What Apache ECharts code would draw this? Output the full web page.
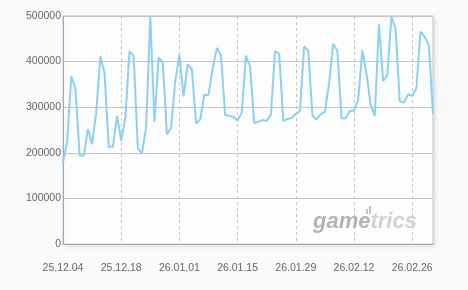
<!DOCTYPE html>
<html>
<head>
<meta charset="utf-8">
<script src="https://cdn.jsdelivr.net/npm/echarts@6/dist/echarts.min.js"></script>
<style>html,body{margin:0;padding:0;background:#fafafa;}#c{width:468px;height:290px;}</style>
</head>
<body>
<div id="c"></div>
<script>
// Daily values from 2025-12-04 to 2026-03-03
var startDate = [2025, 12, 4];
var dayCount = 90;
var values = [
  179000, 224000, 368000, 340000, 194000, 194000, 252000, 219000, 290000, 412000,
  374000, 213000, 214000, 281000, 226000, 277000, 423000, 412000, 210000, 199000,
  257000, 498000, 268000, 409000, 398000, 240000, 255000, 357000, 415000, 323000,
  394000, 383000, 265000, 273000, 327000, 327000, 385000, 430000, 414000, 283000,
  281000, 279000, 270000, 288000, 413000, 389000, 265000, 268000, 272000, 270000,
  284000, 423000, 417000, 270000, 274000, 276000, 286000, 292000, 433000, 424000,
  281000, 273000, 285000, 290000, 352000, 439000, 423000, 276000, 276000, 292000,
  292000, 316000, 425000, 374000, 305000, 281000, 482000, 358000, 369000, 498000,
  472000, 313000, 310000, 328000, 325000, 341000, 466000, 454000, 436000, 286000
];
var yTicks = [0, 100000, 200000, 300000, 400000, 500000];

function pad(n){ return (n < 10 ? '0' : '') + n; }
var categories = [];
(function(){
  var d = new Date(Date.UTC(startDate[0], startDate[1]-1, startDate[2]));
  for (var i = 0; i < dayCount; i++) {
    var yy = String(d.getUTCFullYear()).slice(2);
    categories.push(yy + '.' + pad(d.getUTCMonth()+1) + '.' + pad(d.getUTCDate()));
    d.setUTCDate(d.getUTCDate() + 1);
  }
})();

var chart = echarts.init(document.getElementById('c'), null, {renderer:'canvas'});
chart.setOption({
  backgroundColor: '#fafafa',
  animation: false,
  grid: {
    left: 63, right: 35, top: 16, bottom: 46,
    show: true, backgroundColor: '#fdfdfd',
    borderColor: '#b6cde0', borderWidth: 1,
    shadowColor: 'rgba(0,0,0,0.10)', shadowBlur: 4, shadowOffsetX: 2, shadowOffsetY: 2
  },
  xAxis: {
    type: 'category', data: categories, boundaryGap: false,
    axisLine: { show: true, lineStyle: { color: '#9eaab6', width: 1 } },
    axisTick: { show: false },
    axisLabel: { interval: 13, color: '#666', fontSize: 10.5, fontFamily: 'Liberation Sans, Arial, sans-serif', margin: 19 },
    splitLine: { show: true, interval: 13, lineStyle: { color: '#c4c4c4', type: [3, 3], width: 1 } }
  },
  yAxis: {
    type: 'value', min: yTicks[0], max: yTicks[yTicks.length-1], interval: yTicks[1]-yTicks[0],
    axisLine: { show: true, lineStyle: { color: '#9eaab6', width: 1 } },
    axisTick: { show: false },
    axisLabel: { color: '#666', fontSize: 10.5, fontFamily: 'Liberation Sans, Arial, sans-serif', margin: 2,
      formatter: function (v) { return String(v); } },
    splitLine: { show: true, lineStyle: { color: '#c4c4c4', width: 1 } }
  },
  series: [{
    type: 'line', data: values, symbol: 'none', smooth: false,
    lineStyle: { color: '#8dd0f2', width: 2 }, z: 5
  }],
  graphic: [
    {
      type: 'text', left: 313, top: 211, z: 1, silent: true,
      style: {
        text: '{a|game}{b|trics}',
        rich: {
          a: { fill: '#b4b4b4', font: 'italic bold 22px Liberation Sans, Arial, sans-serif' },
          b: { fill: '#d2d2d2', font: 'italic bold 22px Liberation Sans, Arial, sans-serif' }
        }
      }
    },
    { type: 'rect', shape: { x: 366, y: 209, width: 2, height: 5 }, style: { fill: '#c4c4c4' }, z: 1, silent: true },
    { type: 'rect', shape: { x: 369, y: 206, width: 2, height: 8 }, style: { fill: '#c4c4c4' }, z: 1, silent: true }
  ]
});
</script>
</body>
</html>
